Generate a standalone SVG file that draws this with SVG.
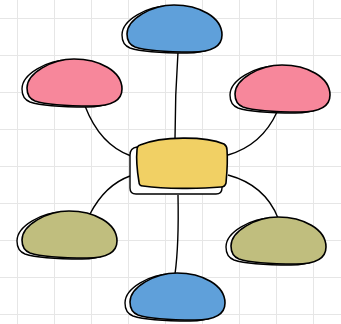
<svg xmlns="http://www.w3.org/2000/svg" xmlns:xlink="http://www.w3.org/1999/xlink" width="341" height="324" viewBox="0 0 341 324">
<style>
.grid line{stroke:#e6e6e6;stroke-width:1}
.back{fill:#fff;stroke:#000;stroke-width:1.4}
.front{stroke:#000;stroke-width:1.6}
.blue{fill:#5fa0da}
.pink{fill:#f7879b}
.olive{fill:#c0be7e}
.yellow{fill:#f1d064}
.conn path{fill:none;stroke:#000;stroke-width:1.4}
</style>
<defs>
<path id="dome" d="M 0,29 C 0,14 25,0 47,0 C 72,0 95,12 95,30 C 95,42 85,47 65,47 C 45,47 20,46 8,42 C 3,40 0,35 0,29 Z"/>
</defs>
<rect width="341" height="324" fill="#fff"/>
<g class="grid">
<line x1="17.5" y1="0" x2="17.5" y2="324"/><line x1="54.5" y1="0" x2="54.5" y2="324"/><line x1="91.5" y1="0" x2="91.5" y2="324"/><line x1="128.5" y1="0" x2="128.5" y2="324"/><line x1="165.5" y1="0" x2="165.5" y2="324"/><line x1="202.5" y1="0" x2="202.5" y2="324"/><line x1="239.5" y1="0" x2="239.5" y2="324"/><line x1="276.5" y1="0" x2="276.5" y2="324"/><line x1="313.5" y1="0" x2="313.5" y2="324"/>
<line x1="0" y1="18.5" x2="341" y2="18.5"/><line x1="0" y1="55.5" x2="341" y2="55.5"/><line x1="0" y1="92.5" x2="341" y2="92.5"/><line x1="0" y1="129.5" x2="341" y2="129.5"/><line x1="0" y1="166.5" x2="341" y2="166.5"/><line x1="0" y1="203.5" x2="341" y2="203.5"/><line x1="0" y1="240.5" x2="341" y2="240.5"/><line x1="0" y1="277.5" x2="341" y2="277.5"/><line x1="0" y1="314.5" x2="341" y2="314.5"/>
</g>
<g class="conn" id="connectors">
<path d="M 178,52 Q 175,95 175,139"/>
<path d="M 85,106 Q 100,145 131,156"/>
<path d="M 277,112 Q 262,145 228,155"/>
<path d="M 90,214 Q 105,185 130,176"/>
<path d="M 228,175 Q 265,185 278,218"/>
<path d="M 178,195 Q 179,245 175,274"/>
</g>
<g id="node-top">
<use xlink:href="#dome" class="back" transform="translate(122,6)"/>
<use xlink:href="#dome" class="front blue" transform="translate(127,5)"/>
</g>
<g id="node-top-left">
<use xlink:href="#dome" class="back" transform="translate(22,60)"/>
<use xlink:href="#dome" class="front pink" transform="translate(27,59)"/>
</g>
<g id="node-top-right">
<use xlink:href="#dome" class="back" transform="translate(230,66)"/>
<use xlink:href="#dome" class="front pink" transform="translate(235,65)"/>
</g>
<g id="node-bottom-left">
<use xlink:href="#dome" class="back" transform="translate(17,212)"/>
<use xlink:href="#dome" class="front olive" transform="translate(22,211)"/>
</g>
<g id="node-bottom-right">
<use xlink:href="#dome" class="back" transform="translate(226,218)"/>
<use xlink:href="#dome" class="front olive" transform="translate(231,217)"/>
</g>
<g id="node-bottom">
<use xlink:href="#dome" class="back" transform="translate(125,274)"/>
<use xlink:href="#dome" class="front blue" transform="translate(130,273)"/>
</g>
<g id="node-center">
<path class="back" d="M 137,147 L 217,148 Q 222,148 222,154 L 222,188 Q 222,194 216,194 L 136,194 Q 130,194 130,188 L 130,155 Q 130,148 137,147 Z"/>
<path class="front yellow" d="M 140,145 C 162,136 205,136 224,144 Q 227,146 227,150 C 228,162 227,172 226,183 Q 225,187 221,187 C 200,189 165,189 143,186 Q 139,186 139,182 C 137,170 136,160 137,150 Q 137,146 140,145 Z"/>
</g>
</svg>
